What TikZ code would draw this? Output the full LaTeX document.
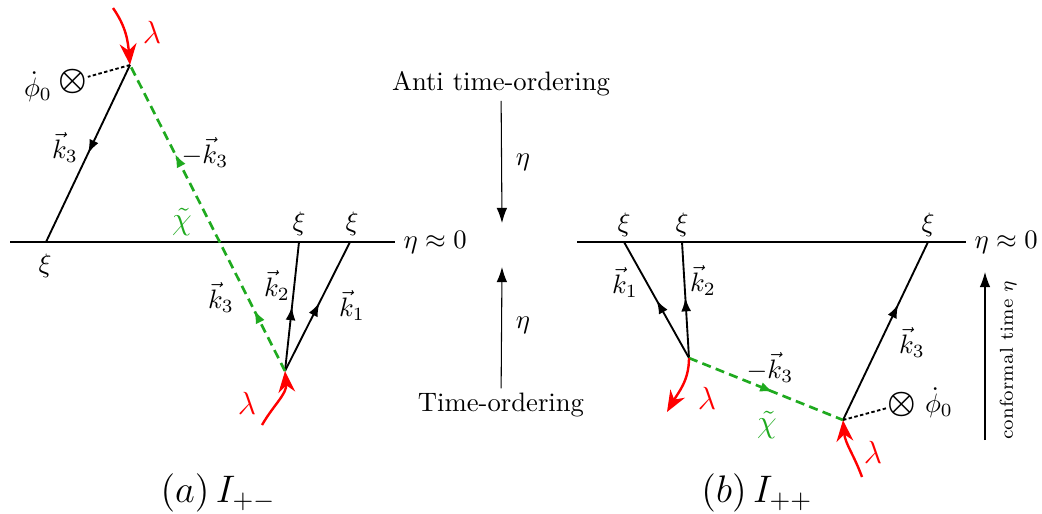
\documentclass[tikz,border=0pt]{standalone}
\usepackage{amsmath,amssymb}
\usepackage{tikz}
\usetikzlibrary{arrows.meta,decorations.markings,positioning}
\definecolor{chigreen}{HTML}{1FAA1F}
\definecolor{lamred}{HTML}{FF0000}
\tikzset{
  prop/.style={line width=0.7pt},
  midarr/.style={postaction={decorate},decoration={markings,
    mark=at position #1 with {\arrow{Latex[length=1.8mm,width=1.3mm]}}}},
  twoarr/.style 2 args={postaction={decorate},decoration={markings,
    mark=at position #1 with {\arrow{Latex[length=1.8mm,width=1.3mm]}},
    mark=at position #2 with {\arrow{Latex[length=1.8mm,width=1.3mm]}}}},
  chi/.style={chigreen,line width=1pt,dash pattern=on 3.4pt off 2pt},
  ins/.style={line width=0.7pt,dash pattern=on 1.3pt off 0.9pt},
  lam/.style={lamred,line width=0.9pt,-{Stealth[length=2.8mm,width=2.2mm]}},
  lamlbl/.style={text=lamred,font=\large},
  chilbl/.style={text=chigreen,font=\large},
  tord/.style={thin,-{Latex[length=2mm,width=1.4mm]}},
}

\begin{document}
\begin{tikzpicture}[x=0.375pt,y=-0.375pt,inner sep=1.5pt]
  \useasboundingbox (0,0) rectangle (1042,513);
  % (a) I_{+-}
  \coordinate (lineA) at (10,242);
  \node[anchor=west,inner sep=3pt] (zeroA) at (395,242) {$\eta\approx 0$};
  \draw[prop] (lineA) -- (zeroA.west);
  \coordinate (v1) at (130,65);
  \coordinate (v2) at (285,371);
  \coordinate (xa1) at (46,242);
  \coordinate (xa2) at (299,242);
  \coordinate (xa3) at (350,242);
  \draw[prop,midarr=0.5] (v1) -- (xa1);
  \draw[prop,midarr=0.5] (v2) -- (xa2);
  \draw[prop,midarr=0.53] (v2) -- (xa3);
  \draw[chi,twoarr={0.2}{0.71}] (v2) -- (v1);
  \node[inner sep=0pt,font=\large] (phiA) at (73,81) {$\boldsymbol{\otimes}$};
  \draw[ins] (v1) -- (phiA);
  \node (phidotA) at (38,87) {$\dot\phi_0$};
  \coordinate (lamA1) at (113,8);
  \draw[lam] (lamA1) to[out=-55,in=95] (v1);
  \node[lamlbl] (lamlblA1) at (152,32) {$\lambda$};
  \coordinate (lamA2) at (262,425);
  \draw[lam] (lamA2) to[out=60,in=-85] (v2);
  \node[lamlbl] (lamlblA2) at (247,403) {$\lambda$};
  \node (xiA1) at (45,266) {$\xi$};
  \node (xiA2) at (299,224) {$\xi$};
  \node (xiA3) at (352,224) {$\xi$};
  \node (kA3up) at (65,147) {$\vec{k}_3$};
  \node (mkA3) at (205,152) {$-\vec{k}_3$};
  \node[chilbl] (chiA) at (182,222) {$\tilde{\chi}$};
  \node (kA3dn) at (221,297) {$\vec{k}_3$};
  \node (kA2) at (277,285) {$\vec{k}_2$};
  \node (kA1) at (352,305) {$\vec{k}_1$};
  \node[font=\Large] (capA) at (218,493) {$(a)\,I_{+-}$};

  % time ordering
  \node (anti) at (501,84) {Anti time-ordering};
  \coordinate (tipU) at (502,223);
  \draw[tord] (anti) -- (tipU);
  \node (etaU) at (523,162) {$\eta$};
  \node (tord) at (501,405) {Time-ordering};
  \coordinate (tipD) at (502,267);
  \draw[tord] (tord) -- (tipD);
  \node (etaD) at (523,325) {$\eta$};

  % (b) I_{++}
  \coordinate (lineB) at (577,242);
  \node[anchor=west,inner sep=3pt] (zeroB) at (966,242) {$\eta\approx 0$};
  \draw[prop] (lineB) -- (zeroB.west);
  \coordinate (v3) at (689,358);
  \coordinate (v4) at (843,420);
  \coordinate (xb1) at (624,242);
  \coordinate (xb2) at (682,242);
  \coordinate (xb3) at (928,242);
  \draw[prop,midarr=0.5] (v3) -- (xb1);
  \draw[prop,midarr=0.52] (v3) -- (xb2);
  \draw[prop,midarr=0.65] (v4) -- (xb3);
  \draw[chi,midarr=0.55] (v3) -- (v4);
  \node[inner sep=0pt,font=\large] (phiB) at (902,404) {$\boldsymbol{\otimes}$};
  \draw[ins] (v4) -- (phiB);
  \node (phidotB) at (939,403) {$\dot\phi_0$};
  \coordinate (lamB1) at (667,412);
  \draw[lam] (v3) to[out=-90,in=60] (lamB1);
  \node[lamlbl] (lamlblB1) at (707,398) {$\lambda$};
  \coordinate (lamB2) at (862,477);
  \draw[lam] (lamB2) to[out=110,in=-85] (v4);
  \node[lamlbl] (lamlblB2) at (873,452) {$\lambda$};
  \node (xiB1) at (624,225) {$\xi$};
  \node (xiB2) at (682,225) {$\xi$};
  \node (xiB3) at (928,225) {$\xi$};
  \node (kB1) at (625,282) {$\vec{k}_1$};
  \node (kB2) at (703,280) {$\vec{k}_2$};
  \node (kB3) at (912,342) {$\vec{k}_3$};
  \node (mkB3) at (770,367) {$-\vec{k}_3$};
  \node[chilbl] (chiB) at (767,425) {$\tilde{\chi}$};
  \coordinate (ctA) at (985,440);
  \coordinate (ctB) at (985,272);
  \draw[tord] (ctA) -- (ctB);
  \node[rotate=90,font=\scriptsize] (ctime) at (1008,360) {conformal time $\eta$};
  \node[font=\Large] (capB) at (757,493) {$(b)\,I_{++}$};
\end{tikzpicture}
\end{document}
